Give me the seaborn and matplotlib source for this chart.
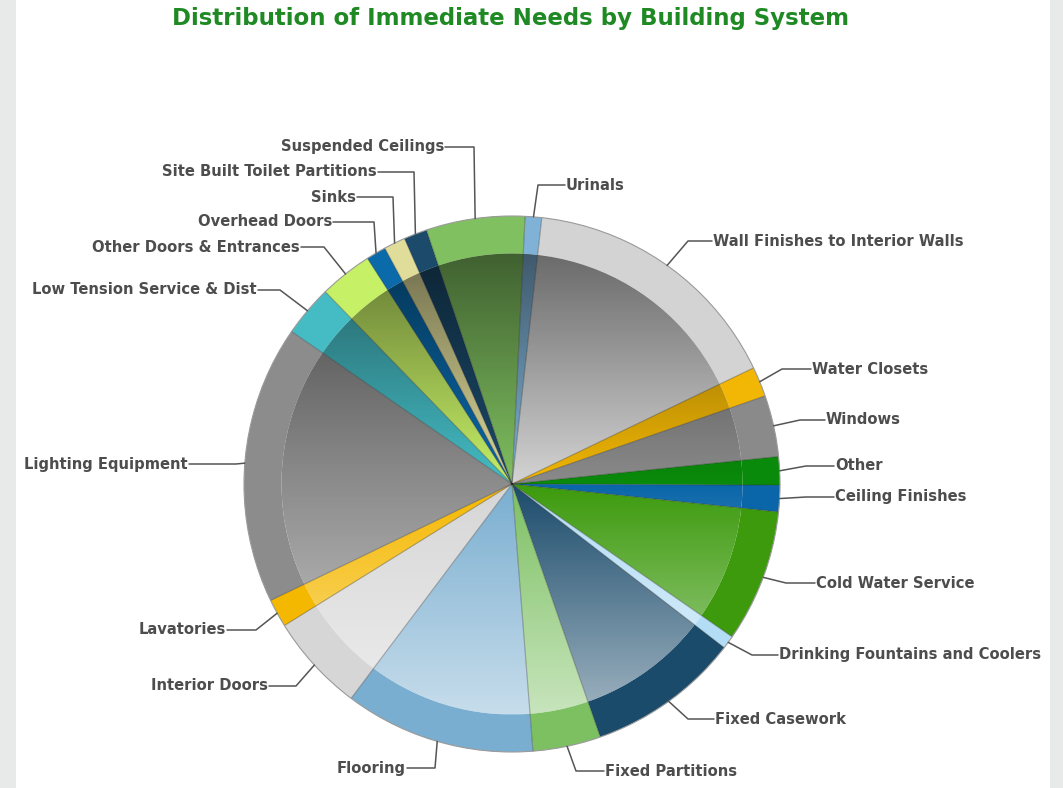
import numpy as np
import matplotlib
matplotlib.use("Agg")
import matplotlib.pyplot as plt
from matplotlib.patches import Circle, Rectangle
import seaborn as sns

# slices, clockwise from 12 o'clock (share of immediate needs, %)
systems = ['Urinals', 'Wall Finishes to Interior Walls', 'Water Closets', 'Windows', 'Other',
           'Ceiling Finishes', 'Cold Water Service', 'Drinking Fountains and Coolers',
           'Fixed Casework', 'Fixed Partitions', 'Flooring', 'Interior Doors', 'Lavatories',
           'Lighting Equipment', 'Low Tension Service & Dist', 'Other Doors & Entrances',
           'Overhead Doors', 'Sinks', 'Site Built Toilet Partitions', 'Suspended Ceilings']
shares = [1.0, 16.1, 1.8, 3.7, 1.7, 1.6, 8.0, 0.8, 9.2, 4.1,
          11.5, 5.9, 1.7, 16.8, 3.1, 3.2, 1.2, 1.3, 1.4, 5.95]
colors = ['#7fb2d6', '#d3d3d3', '#f2b705', '#8a8a8a', '#0a8a0a', '#0a66a8', '#3c9a0c', '#b3ddf5',
          '#1b4b6b', '#7cc062', '#7aaed0', '#d6d6d6', '#f5b800', '#8c8c8c', '#45bcc4', '#c6f066',
          '#0a6aaa', '#e0dc9a', '#1b4a6a', '#80c060']

sns.set_theme(style="white")
plt.rcParams['font.family'] = ['DejaVu Sans']

W, H = 1063, 788
CX, CY, R = 512, 484, 268
INNER = 0.86


def px(x, y):
    # pixel position -> data units (pie radius = 1)
    return (x - CX) / R, (CY - y) / R


# label anchor (text x, text y, elbow x) in pixels
layout = {
    'Suspended Ceilings': (444, 147, 474),
    'Site Built Toilet Partitions': (377, 172, 414),
    'Sinks': (356, 197, 393),
    'Overhead Doors': (332, 222, 374),
    'Other Doors & Entrances': (300, 247, 324),
    'Low Tension Service & Dist': (257, 290, 280),
    'Lighting Equipment': (188, 464, 236),
    'Lavatories': (226, 630, 256),
    'Interior Doors': (268, 686, 296),
    'Flooring': (406, 768, 435),
    'Urinals': (566, 185, 538),
    'Wall Finishes to Interior Walls': (713, 241, 688),
    'Water Closets': (812, 369, 782),
    'Windows': (826, 420, 800),
    'Other': (835, 466, 806),
    'Ceiling Finishes': (835, 497, 806),
    'Cold Water Service': (816, 583, 786),
    'Drinking Fountains and Coolers': (779, 655, 752),
    'Fixed Casework': (715, 719, 688),
    'Fixed Partitions': (605, 771, 576),
}

fig = plt.figure(figsize=(W / 100, H / 100), dpi=100)
fig.patch.set_facecolor('#e8eaea')
fig.add_artist(Rectangle((16 / W, 0), (1050 - 16) / W, 1, transform=fig.transFigure,
                         facecolor='white', edgecolor='none', zorder=0))
ax = fig.add_axes([0, 0, 1, 1])
ax.set_facecolor('none')

palette = sns.color_palette(colors)
start = 87.2

inner, _ = ax.pie(shares, colors=palette, radius=INNER, startangle=start, counterclock=False,
                  wedgeprops=dict(linewidth=0))
ring, _ = ax.pie(shares, colors=palette, radius=1.0, startangle=start, counterclock=False,
                 wedgeprops=dict(width=1 - INNER, linewidth=0))

# vertical shading of the inner disc: dark on top, light at the bottom
n = 256
t = np.linspace(0, 1, n)
shade = np.zeros((n, 1, 4))
top = t < 0.5
shade[top, 0, 3] = 0.5 * (1 - t[top] / 0.5)
shade[~top, 0, :3] = 1
shade[~top, 0, 3] = 0.58 * (t[~top] - 0.5) / 0.5
im = ax.imshow(shade, extent=(-INNER, INNER, -INNER, INNER), origin='upper', aspect='auto',
               zorder=2, interpolation='bilinear')
im.set_clip_path(Circle((0, 0), INNER, transform=ax.transData))

for w in ring:
    a = np.deg2rad(w.theta1)
    ax.plot([0, np.cos(a)], [0, np.sin(a)], color=(0.15, 0.15, 0.15, 0.35), lw=0.8, zorder=3)
ax.add_patch(Circle((0, 0), 1, fill=False, edgecolor='#9a9a9a', lw=0.8, zorder=3))

for w, name in zip(ring, systems):
    tx, ty, ex = layout[name]
    mid = np.deg2rad((w.theta1 + w.theta2) / 2)
    right = tx > CX
    x0 = tx - 1 if right else tx + 1
    p0, p1 = px(x0, ty), px(ex, ty)
    ax.plot([p0[0], p1[0], np.cos(mid)], [p0[1], p1[1], np.sin(mid)],
            color='#555555', lw=1.1, zorder=4)
    ax.text(*px(tx, ty), name, ha='left' if right else 'right', va='center',
            fontsize=10.6, fontweight='bold', color='#4d4d4d', zorder=5)

fig.text(510 / W, 1 - 19 / H, 'Distribution of Immediate Needs by Building System',
         ha='center', va='center', fontsize=16.5, fontweight='bold', color='#1f8a24')

ax.set_xlim(-CX / R, (W - CX) / R)
ax.set_ylim(-(H - CY) / R, CY / R)
ax.set_aspect('auto')
ax.axis('off')

fig.savefig('out.png', dpi=100)
